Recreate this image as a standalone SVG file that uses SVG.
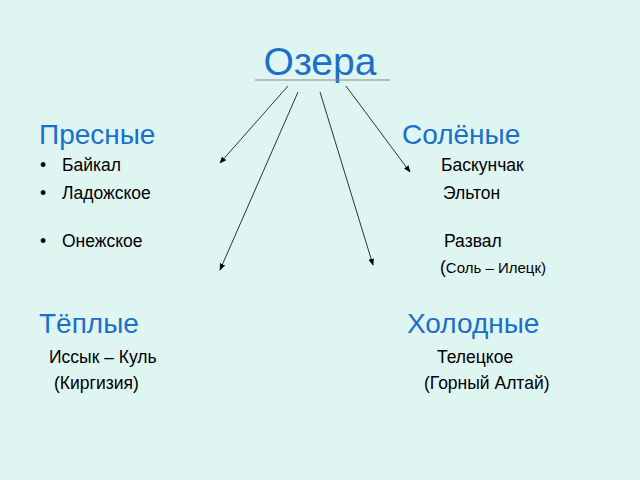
<svg xmlns="http://www.w3.org/2000/svg" width="640" height="480" viewBox="0 0 640 480">
<defs>
<marker id="a" viewBox="0 0 10 10" refX="9" refY="5" markerWidth="7" markerHeight="7" orient="auto"><path d="M0,1 L10,5 L0,9 z" fill="#000"/></marker>
<style>
.h{font-family:"Liberation Sans",Arial,sans-serif;fill:#1a6fcb;font-size:28px}
.t{font-family:"Liberation Sans",Arial,sans-serif;fill:#000;font-size:17.5px}
.c{stroke:#333;stroke-width:1;fill:none;marker-end:url(#a)}
</style>
</defs>
<rect width="640" height="480" fill="#dff5f1"/>
<g id="title"><text x="320" y="75" text-anchor="middle" class="h" style="font-size:39px">Озера</text>
<line x1="255" y1="80" x2="390" y2="80" stroke="#888" stroke-width="1"/></g>
<g id="connectors">
<line class="c" x1="288" y1="86" x2="220" y2="163"/>
<line class="c" x1="298" y1="92" x2="220" y2="270"/>
<line class="c" x1="320" y1="92" x2="373" y2="265"/>
<line class="c" x1="346" y1="86" x2="410" y2="172"/>
</g>
<g id="fresh"><text x="39" y="144" class="h">Пресные</text>
<text x="40" y="171" class="t">•</text><text x="62" y="171" class="t">Байкал</text>
<text x="40" y="199" class="t">•</text><text x="62" y="199" class="t">Ладожское</text>
<text x="40" y="247" class="t">•</text><text x="62" y="247" class="t">Онежское</text></g>
<g id="salt"><text x="402" y="144" class="h">Солёные</text>
<text x="441" y="171" class="t">Баскунчак</text>
<text x="443" y="199" class="t">Эльтон</text>
<text x="444" y="247" class="t">Развал</text>
<text x="440" y="273" class="t">(<tspan style="font-size:15px">Соль – Илецк)</tspan></text></g>
<g id="warm"><text x="39" y="333" class="h">Тёплые</text>
<text x="49" y="363" class="t">Иссык – Куль</text>
<text x="54" y="389" class="t">(Киргизия)</text></g>
<g id="cold"><text x="407" y="333" class="h">Холодные</text>
<text x="437" y="363" class="t">Телецкое</text>
<text x="424" y="389" class="t">(Горный Алтай)</text></g>
</svg>
